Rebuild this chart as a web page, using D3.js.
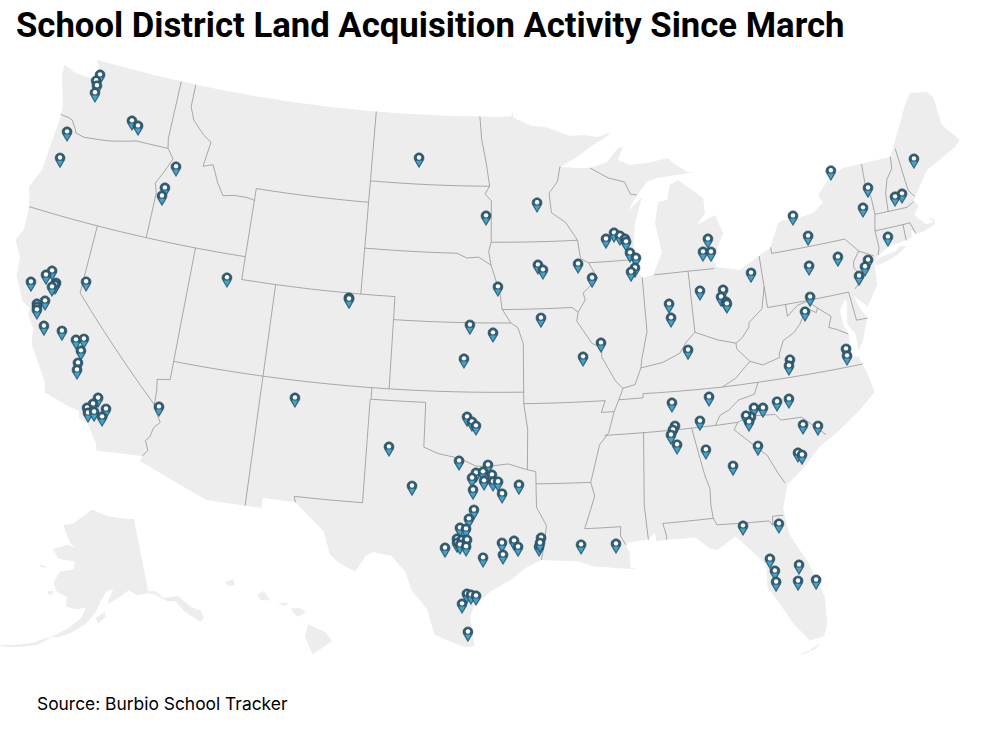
<!DOCTYPE html>
<html>
<head>
<meta charset="utf-8">
<script src="https://cdn.jsdelivr.net/npm/d3@7"></script>
<style>
  html, body { margin: 0; padding: 0; background: #fff; }
</style>
</head>
<body>
<svg id="map" width="988" height="732"></svg>
<script>
var title = "School District Land Acquisition Activity Since March";
var source = "Source: Burbio School Tracker";

// lower 48 outline, lon/lat
var usOutline = [[-124.7,48.4],[-123.9,48.17],[-123.1,48.15],[-122.75,48.15],[-122.6,47.9],[-122.55,47.3],[-122.4,47.3],[-122.35,47.6],[-122.25,48.0],[-122.5,48.4],[-122.5,48.75],[-122.76,49.0],
[-95.15,49.0],[-95.12,49.38],[-95.05,48.98],[-94.73,48.85],[-93.82,48.57],[-92.97,48.51],[-92.20,48.32],[-91.37,48.07],[-90.40,48.08],[-89.63,47.96],[-88.64,48.13],[-89.25,47.85],[-90.12,47.54],[-90.79,47.21],[-92.10,46.73],[-90.84,46.64],[-90.21,46.62],[-89.10,46.83],[-88.34,47.41],[-88.01,47.43],[-88.40,46.88],[-87.66,46.62],[-86.58,46.64],[-85.22,46.76],[-84.94,46.51],[-84.13,46.05],[-83.64,46.00],[-84.78,45.97],[-86.05,45.94],[-86.70,45.81],[-87.39,45.28],[-88.03,44.62],[-87.10,45.18],[-87.67,44.08],[-87.98,42.48],[-87.54,41.67],[-86.88,41.76],[-86.22,42.67],[-86.46,44.00],[-86.14,44.89],[-85.58,44.94],[-85.29,45.57],[-84.76,45.75],[-83.35,44.83],[-83.36,44.17],[-83.93,43.70],[-82.77,44.03],[-82.44,43.21],[-83.25,42.10],[-83.08,41.78],[-81.76,41.51],[-80.46,42.02],[-79.80,42.24],[-79.07,43.25],[-78.74,43.34],[-78.15,43.26],[-76.89,43.39],[-76.17,43.73],[-76.37,44.12],[-75.42,44.77],[-74.51,45.03],[-73.43,45.03],[-71.52,45.01],[-71.20,45.35],[-69.76,47.03],[-69.24,47.47],[-68.17,47.30],[-67.90,47.02],[-67.87,45.73],[-67.08,44.87],[-67.50,44.65],[-69.55,44.03],[-70.68,43.04],
[-70.8,42.85],[-70.6,42.65],[-71.0,42.3],[-70.65,41.95],[-70.5,41.78],[-70.0,41.78],[-70.25,42.07],[-69.95,41.9],[-69.95,41.67],[-70.65,41.52],[-71.15,41.48],[-71.4,41.7],[-71.5,41.37],[-72.9,41.25],[-73.65,40.98],[-74.0,40.7],[-74.0,40.45],[-74.1,39.75],[-74.9,38.93],[-75.55,39.5],[-75.4,39.05],[-75.08,38.45],[-75.6,37.5],[-75.95,37.15],[-75.9,37.9],[-76.25,38.4],[-76.0,39.3],[-76.1,39.45],[-76.5,39.0],[-76.45,38.3],[-76.3,38.0],[-76.3,37.5],[-76.35,37.0],[-76.0,36.9],[-75.75,36.2],[-75.55,35.27],[-76.5,34.65],[-77.9,33.9],[-79.0,33.4],[-79.9,32.7],[-81.0,32.0],[-81.4,31],[-81.3,29.9],[-80.55,28.45],[-80.05,26.9],[-80.15,25.75],[-80.4,25.2],[-81.1,25.12],[-81.75,25.95],[-82.2,26.8],[-82.75,27.7],[-82.65,28.7],[-83.4,29.5],[-84.0,30.1],[-85.0,29.6],[-85.35,29.7],[-86.0,30.25],[-87.5,30.28],[-88.0,30.25],[-88.05,30.65],[-88.4,30.35],[-89.4,30.3],[-89.6,30.18],[-89.4,29.9],[-89.4,29.2],[-89.05,29.1],[-90.0,29.2],[-91.3,29.35],[-92.0,29.6],[-93.85,29.7],[-94.7,29.35],[-95.3,28.9],[-96.4,28.35],[-97.2,27.7],[-97.4,27.2],[-97.15,25.96],[-97.6,25.9],[-98.2,26.07],[-99.1,26.4],[-99.5,27.5],[-100.3,28.3],[-100.65,29.1],[-101.4,29.77],[-102.3,29.88],[-102.7,29.7],[-103.15,28.98],[-104.0,29.3],[-104.5,29.65],[-104.9,30.6],[-106.5,31.75],[-108.2,31.78],[-108.2,31.33],[-111.07,31.33],[-114.8,32.5],[-114.72,32.72],[-117.12,32.53],
[-117.25,32.85],[-117.9,33.6],[-118.4,33.75],[-118.5,34.03],[-119.2,34.15],[-120.5,34.45],[-120.65,34.9],[-121.85,36.3],[-121.95,36.6],[-122.0,36.97],[-122.5,37.5],[-122.5,37.8],[-123.0,38.0],[-123.75,39.0],[-123.85,39.8],[-124.4,40.45],[-124.1,41.0],[-124.2,42.0],[-124.55,42.85],[-124.1,43.7],[-124.05,44.7],[-123.95,46.2],[-124.05,46.7],[-124.2,47.0],[-124.65,47.9]];
var longIsland = [[-74.0,40.6],[-73.75,40.85],[-72.6,40.98],[-72.3,41.15],[-71.9,41.07],[-72.6,40.8],[-73.6,40.58]];
var keys = [[-81.8,24.55],[-81.2,24.68],[-80.6,24.95],[-80.9,24.72],[-81.4,24.58]];

var alaskaShapes = [
  [[-141,69.65],[-145,70],[-150,70.4],[-156.5,71.35],[-160,70.3],[-163,69.3],[-166.2,68.9],[-164.5,67.7],[-163,66.8],[-161.5,66.3],[-164,66.5],[-168,65.65],[-166,64.6],[-161,64.5],[-161,63.5],[-164.8,63],[-166,61.6],[-165,60.5],[-162,59.9],[-162,58.7],[-159,58.5],[-157,58.8],[-158,57.5],[-161,55.9],[-164.5,54.6],[-163,54.7],[-160,55.5],[-157,56.7],[-154.5,58.3],[-153.5,59.5],[-151.9,60.8],[-150,61.2],[-151.8,59.2],[-149,59.9],[-146,60.8],[-144,60],[-141,60],[-139.5,59.7],[-137,58.5],[-135,58.2],[-133.5,56.5],[-131,54.8],[-130,55],[-130,56],[-132,57],[-134,58.8],[-137.5,59],[-139.2,60.1],[-141,60.3]],
  [[-171,63.4],[-169,63.3],[-168.8,63.1],[-170.5,63.1]],
  [[-167,60.3],[-165.7,60.4],[-165.7,59.9],[-167,59.9]],
  [[-154.6,57.5],[-152.3,58.3],[-152.3,57.6],[-154,56.8]],
  [[-164,54.8],[-168,53.5],[-172,52.6],[-176,51.8],[-172,52.3],[-167,53.3]]
];
var hawaiiShapes = [
  [[-155.9,20.25],[-155.1,19.9],[-154.8,19.5],[-155.7,18.95],[-156.05,19.7]],
  [[-156.7,20.95],[-156.25,20.95],[-156,20.75],[-156.4,20.58],[-156.6,20.8]],
  [[-157.3,21.2],[-156.75,21.17],[-157,21.05]],
  [[-158.25,21.55],[-157.95,21.7],[-157.65,21.3],[-158.1,21.3]],
  [[-159.75,22.1],[-159.35,22.2],[-159.3,21.95],[-159.6,21.9]]
];

// state lines, lon/lat
var stateBorders = [
  [[-124,46.25],[-123.4,46.2],[-123.2,46.15],[-122.85,45.8],[-122.75,45.65],[-122.2,45.57],[-121.2,45.65],[-120.5,45.72],[-119.3,45.93],[-118.98,46.0],[-116.92,46.0]],
  [[-117.03,49],[-117.04,46.42],[-116.92,46.0],[-116.47,45.6],[-116.85,44.95],[-117.22,44.4],[-117.03,44.0],[-117.03,42.0]],
  [[-124.2,42],[-111.05,42]],
  [[-120,42],[-120,39],[-114.63,35.0]],
  [[-114.05,37],[-114.05,36.2],[-114.75,36.1],[-114.65,35.6],[-114.63,35],[-114.57,34.83],[-114.14,34.3],[-114.44,34.0],[-114.53,33.6],[-114.72,33.4],[-114.5,33.0],[-114.72,32.72]],
  [[-114.05,42],[-114.05,37]],
  [[-114.05,37],[-94.62,37]],
  [[-109.05,37],[-109.05,31.33]],
  [[-111.05,42],[-111.05,41],[-109.05,41],[-109.05,37]],
  [[-111.05,45],[-111.05,42]],
  [[-111.05,45],[-104.05,45]],
  [[-116.05,49],[-116.05,48],[-115.7,47.45],[-114.9,46.9],[-114.35,46.65],[-114.55,45.55],[-113.95,45.7],[-113.45,44.95],[-113.0,44.45],[-112.3,44.55],[-111.5,44.55],[-111.05,44.48]],
  [[-109.05,41],[-104.05,41]],
  [[-104.05,49],[-104.05,41],[-102.05,41],[-102.05,37]],
  [[-102.05,40],[-95.3,40]],
  [[-104.05,45.94],[-96.56,45.94]],
  [[-104.05,43],[-98.5,43],[-97.9,42.8],[-97.2,42.85],[-96.45,42.5]],
  [[-97.23,49],[-97.1,48],[-96.8,47],[-96.56,45.94],[-96.85,45.6],[-96.45,45.3],[-96.45,43.5],[-96.6,43.1],[-96.45,42.5],[-96.1,41.7],[-95.9,41.2],[-95.8,40.6],[-95.3,40],[-94.9,39.8],[-94.6,39.1],[-94.62,36.5],[-94.43,35.4],[-94.48,33.64]],
  [[-96.45,43.5],[-91.22,43.5]],
  [[-95.77,40.58],[-91.73,40.6],[-91.4,40.38]],
  [[-94.62,36.5],[-90.15,36.5],[-90.4,36.0],[-89.7,36]],
  [[-103,37],[-103,36.5],[-100,36.5],[-100,34.56],[-99.2,34.3],[-98.1,34.13],[-97.2,33.8],[-96.5,33.8],[-95.5,33.9],[-94.48,33.64],[-94.04,33.55],[-94.04,32],[-93.55,31.2],[-93.7,30.3],[-93.85,29.7]],
  [[-103.05,36.5],[-103.05,32],[-106.6,32],[-106.5,31.75]],
  [[-94.04,33.02],[-91.17,33.0]],
  [[-92.1,46.75],[-92.3,46.1],[-92.85,45.6],[-92.75,44.75],[-91.9,44.3],[-91.22,43.5],[-91.1,42.7],[-90.64,42.5],[-90.15,41.8],[-91.05,41.2],[-90.95,40.9],[-91.4,40.38],[-91.5,40],[-90.7,39],[-90.15,38.8],[-90.2,38.4],[-89.5,37.3],[-89.13,36.98],[-89.4,36.5],[-89.7,36],[-90.07,35.1],[-90.6,34.6],[-91.17,33.0],[-91.0,32.4],[-91.6,31.0],[-89.75,31.0],[-89.8,30.6],[-89.55,30.18]],
  [[-88.2,35.0],[-88.47,31.9],[-88.4,30.35]],
  [[-90.3,35],[-84.32,34.99],[-83.1,35],[-82.4,35.2],[-81.05,35.1],[-80.8,34.82],[-79.68,34.8],[-78.55,33.86]],
  [[-83.1,35],[-83.35,34.7],[-82.75,34.2],[-81.8,33.4],[-81.4,32.6],[-81.1,32.1]],
  [[-85.6,34.98],[-85.18,32.87],[-85.0,32.3],[-85.05,31.55],[-85.0,31.0],[-84.86,30.7],[-82.2,30.57],[-82.05,30.36],[-82.0,30.75],[-81.45,30.72]],
  [[-87.6,31.0],[-85.0,31.0]],
  [[-87.6,31.0],[-87.45,30.4],[-87.5,30.28]],
  [[-84.32,34.99],[-84.0,35.4],[-83.5,35.57],[-82.9,35.95],[-82.0,36.1],[-81.7,36.59]],
  [[-89.4,36.5],[-88.07,36.5],[-88.05,36.68],[-83.68,36.6],[-81.7,36.59],[-75.87,36.55]],
  [[-83.68,36.6],[-82.9,36.9],[-81.97,37.54],[-82.6,38.15],[-82.6,38.4]],
  [[-81.97,37.54],[-81.3,37.3],[-80.3,37.5],[-80.3,37.65],[-79.95,38.2],[-79.3,38.45],[-78.87,38.77],[-78.35,39.4],[-77.83,39.13],[-77.72,39.32],[-77.05,38.85],[-77.3,38.4],[-76.9,38.25],[-76.3,37.95]],
  [[-77.72,39.32],[-78.2,39.68],[-78.8,39.6],[-79.48,39.2],[-79.48,39.72]],
  [[-80.52,39.72],[-75.79,39.72]],
  [[-80.52,41.98],[-80.52,39.72]],
  [[-80.52,40.64],[-80.85,39.7],[-81.7,39.2],[-81.75,39],[-82.2,38.6],[-82.6,38.4],[-83.6,38.65],[-84.82,39.1],[-85.4,38.7],[-85.8,38.27],[-86.8,37.95],[-88.05,37.8],[-88.45,37.1],[-89.13,36.98]],
  [[-87.53,41.7],[-87.53,39.35],[-87.95,38.2],[-88.05,37.8]],
  [[-84.82,39.1],[-84.8,41.76]],
  [[-86.8,41.76],[-84.8,41.76],[-83.25,41.73]],
  [[-90.64,42.5],[-87.95,42.5]],
  [[-90.21,46.62],[-89.1,46.13],[-88.1,45.9],[-87.8,45.35],[-87.39,45.28]],
  [[-79.76,42.27],[-79.76,42.0],[-75.35,42.0],[-74.7,41.36],[-75.13,40.97],[-75.2,40.68],[-74.75,40.2],[-75.4,39.8]],
  [[-74.7,41.36],[-73.9,41.0]],
  [[-75.79,39.72],[-75.69,38.46],[-75.05,38.45]],
  [[-73.34,45.01],[-73.43,44.0],[-73.25,43.5],[-73.27,42.75],[-73.5,42.05],[-73.5,41.3],[-73.65,41.0]],
  [[-71.5,45.01],[-71.6,44.5],[-72.05,44.1],[-72.35,43.5],[-72.46,42.73]],
  [[-73.27,42.75],[-71.3,42.7],[-70.82,42.87]],
  [[-71.08,45.3],[-70.98,43.4],[-70.7,43.07]],
  [[-73.5,42.05],[-71.8,42.02],[-71.38,42.02],[-71.2,41.5]],
  [[-71.8,42.02],[-71.85,41.32]]
];

// acquisition sites, lon/lat of the pin tip
var sites = [[-122.13,48.01],[-122.27,47.71],[-122.13,47.51],[-122.13,47.19],[-119.40,46.42],[-118.95,46.27],[-123.14,45.21],[-123.10,44.03],
[-116.07,44.90],[-116.46,43.90],[-116.53,43.53],[-111.83,40.58],[-121.73,39.23],[-122.00,38.99],[-122.71,38.52],[-119.70,39.15],
[-121.33,38.77],[-121.36,38.68],[-121.49,38.56],[-121.66,37.90],[-122.05,37.68],[-122.00,37.55],[-121.96,37.43],[-121.35,36.84],
[-120.32,36.83],[-119.45,36.61],[-119.04,36.73],[-119.04,36.20],[-119.04,35.66],[-119.00,35.36],[-117.55,34.39],[-117.74,34.09],
[-118.00,33.86],[-117.89,33.66],[-117.59,33.76],[-117.01,34.00],[-117.12,33.63],[-114.27,34.56],[-107.10,35.85],[-101.05,46.69],
[-93.63,44.80],[-96.77,44.25],[-89.03,43.33],[-89.54,43.09],[-88.69,43.18],[-88.40,43.03],[-88.35,42.90],[-88.17,42.41],
[-87.84,42.17],[-87.95,41.74],[-88.20,41.58],[-93.67,42.10],[-93.38,41.88],[-91.29,42.08],[-90.51,41.44],[-96.04,41.17],
[-104.67,40.40],[-104.66,40.35],[-97.64,39.51],[-96.32,39.18],[-97.94,38.04],[-93.57,39.80],[-90.22,38.61],[-91.27,38.05],
[-101.83,34.10],[-100.51,32.46],[-98.09,33.62],[-97.71,35.53],[-97.44,35.32],[-97.22,35.15],[-96.56,33.46],[-97.19,33.11],
[-96.82,33.16],[-96.35,33.03],[-97.39,32.89],[-96.76,32.77],[-96.29,32.73],[-96.03,32.73],[-97.33,32.37],[-95.82,32.21],
[-94.94,32.59],[-97.27,31.50],[-97.52,31.11],[-97.97,30.71],[-97.66,30.67],[-98.11,30.23],[-98.10,30.05],[-97.85,30.19],
[-97.60,30.19],[-97.95,29.97],[-97.64,29.89],[-98.70,29.82],[-95.83,30.07],[-95.22,30.16],[-95.02,29.89],[-95.78,29.55],
[-96.78,29.42],[-93.85,30.27],[-93.96,29.88],[-93.91,30.05],[-97.56,27.83],[-97.36,27.79],[-97.11,27.75],[-97.79,27.39],
[-97.48,26.16],[-91.84,29.91],[-90.08,29.87],[-70.28,44.27],[-75.40,44.64],[-73.43,43.55],[-74.00,42.76],[-71.53,42.94],
[-71.98,42.89],[-72.97,41.28],[-78.21,43.05],[-77.55,42.07],[-76.08,40.92],[-77.83,40.79],[-74.41,40.51],[-74.67,40.25],
[-75.12,39.92],[-81.23,40.92],[-83.46,42.65],[-83.85,42.12],[-83.38,42.07],[-84.31,40.46],[-82.98,40.37],[-83.15,40.08],
[-82.91,39.84],[-82.87,39.75],[-86.17,40.05],[-78.11,39.46],[-86.14,39.44],[-78.55,38.87],[-85.38,37.98],[-76.70,36.95],
[-76.72,36.65],[-79.85,36.94],[-79.96,36.69],[-84.53,35.86],[-86.57,35.78],[-80.92,35.24],[-80.26,35.28],[-81.72,35.07],
[-82.20,35.13],[-82.43,34.76],[-82.68,34.84],[-82.57,34.56],[-79.75,34.07],[-78.98,33.91],[-85.17,34.87],[-86.53,34.77],
[-86.66,34.61],[-86.79,34.40],[-86.52,33.95],[-85.03,33.60],[-82.28,33.47],[-80.26,32.91],[-80.07,32.79],[-83.72,32.76],
[-83.61,30.12],[-81.80,29.99],[-82.50,28.53],[-81.12,28.08],[-82.34,27.98],[-82.36,27.49],[-81.29,27.39],[-80.41,27.31]];

var svg = d3.select("#map");

var projection = d3.geoAlbers().scale(1312).translate([488, 353]);
var projAlaska = d3.geoConicEqualArea().rotate([154, 0]).center([-2, 58.5]).parallels([55, 65]).scale(450).translate([90, 610]);
var projHawaii = d3.geoConicEqualArea().rotate([157, 0]).center([-3, 19.9]).parallels([8, 18]).scale(1320).translate([219, 632]);

// straight in lon/lat, so parallels stay curved on the page
function densify(coords) {
  var out = [];
  for (var i = 0; i < coords.length - 1; i++) {
    var a = coords[i], b = coords[i + 1];
    var steps = Math.ceil(Math.max(Math.abs(b[0] - a[0]), Math.abs(b[1] - a[1])));
    for (var s = 0; s < steps; s++) {
      out.push([a[0] + (b[0] - a[0]) * s / steps, a[1] + (b[1] - a[1]) * s / steps]);
    }
  }
  out.push(coords[coords.length - 1]);
  return out;
}

var line = d3.line();
function land(coords, proj) {
  svg.append("path")
    .attr("d", line(densify(coords.concat([coords[0]])).map(function(p) { return proj(p); })) + "Z")
    .attr("fill", "#ededed");
}

land(usOutline, projection);
land(longIsland, projection);
land(keys, projection);
alaskaShapes.forEach(function(s) { land(s, projAlaska); });
hawaiiShapes.forEach(function(s) { land(s, projHawaii); });

svg.append("g").selectAll("path")
  .data(stateBorders)
  .join("path")
  .attr("d", function(d) { return line(densify(d).map(function(p) { return projection(p); })); })
  .attr("fill", "none")
  .attr("stroke", "#8a8a8a")
  .attr("stroke-width", 0.7);

var pins = svg.append("g").selectAll("g")
  .data(sites)
  .join("g")
  .attr("transform", function(d) { return "translate(" + projection(d) + ")"; });

// dark drop
pins.append("path")
  .attr("d", "M0,0.6L-4.4,-6.8A5,5 0 1 1 4.4,-6.8Z")
  .attr("fill", "#2f5c72")
  .attr("stroke", "#27485a")
  .attr("stroke-width", 0.5);

// blue point of the drop
pins.append("path")
  .attr("d", "M0,-1L-3.1,-6.4L3.1,-6.4Z")
  .attr("fill", "#3fa4d2");

pins.append("circle")
  .attr("cy", -9.6)
  .attr("r", 2.2)
  .attr("fill", "#fff");

svg.append("text")
  .attr("x", 16).attr("y", 37)
  .attr("font-family", "Roboto")
  .attr("font-weight", 700)
  .attr("font-size", 34.7)
  .attr("fill", "#000")
  .text(title);

svg.append("text")
  .attr("x", 37).attr("y", 710)
  .attr("font-family", "Inter")
  .attr("font-size", 17.4)
  .attr("fill", "#000")
  .text(source);
</script>
</body>
</html>
